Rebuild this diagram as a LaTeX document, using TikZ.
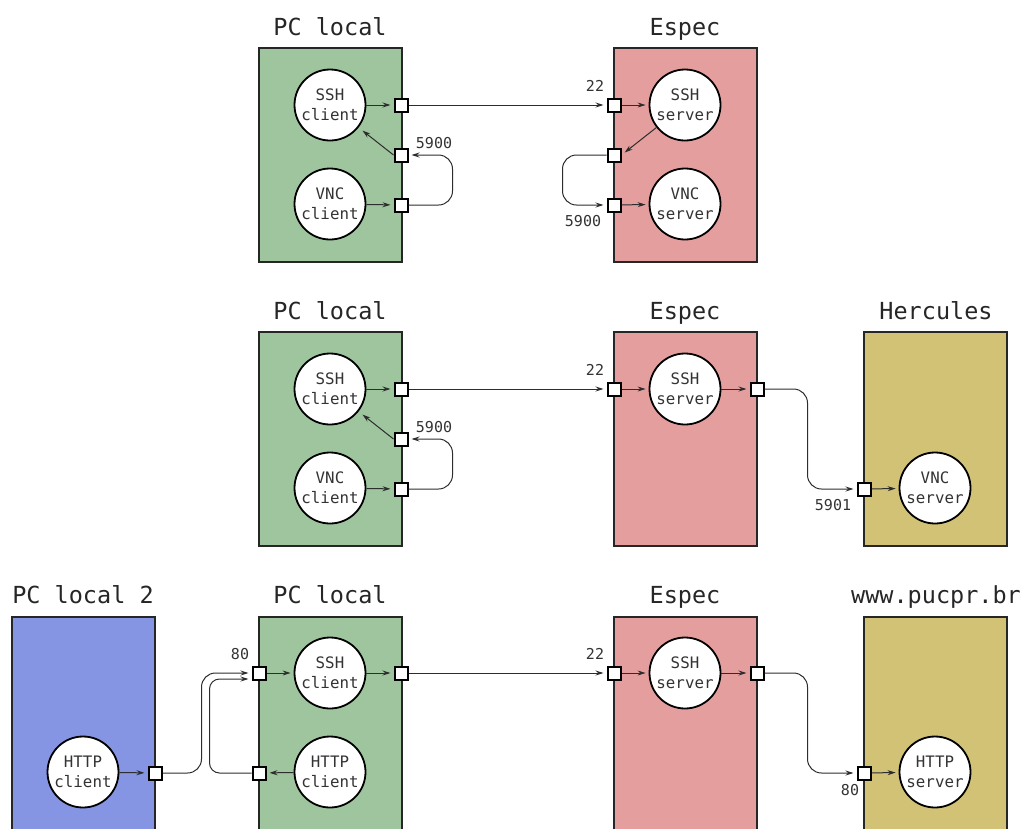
\documentclass[tikz,border=0pt]{standalone}
\usepackage{fontspec}
\setmonofont{DejaVu Sans Mono}
\usetikzlibrary{arrows.meta,calc}
\definecolor{cgreen}{RGB}{158,197,158}
\definecolor{cred}{RGB}{229,158,158}
\definecolor{cblue}{RGB}{133,149,228}
\definecolor{colive}{RGB}{209,194,118}
\definecolor{cline}{RGB}{45,45,45}
\begin{document}
\begin{tikzpicture}[x=1pt,y=-1pt,
  host/.style={draw=black!85, line width=2.2pt, minimum width=143pt, inner sep=0pt},
  title/.style={font=\ttfamily\fontsize{23.5}{28}\selectfont, text=black!85, text height=17pt, text depth=5pt},
  service/.style={circle, draw=black, fill=white, line width=1.8pt, minimum size=71pt, inner sep=0pt, align=center, font=\ttfamily\fontsize{15.8}{20}\selectfont, text=black!80},
  port/.style={draw=black, fill=white, line width=2pt, minimum size=13pt, inner sep=0pt},
  plabel/.style={font=\ttfamily\fontsize{15}{17}\selectfont, text=black!80},
  conn/.style={draw=cline, line width=1pt, -{Stealth[length=8pt,width=5pt]}, shorten >=3pt},
  loop/.style={conn, rounded corners=14pt}
]
\useasboundingbox (0,0) rectangle (1023,828);
\clip (0,0) rectangle (1023,828);

% ---------------- Row 1 ----------------
\node[host, fill=cgreen, minimum height=214pt] (pcA) at (330.5,155) {};
\node[host, fill=cred, minimum height=214pt] (espA) at (685.5,155) {};
\node[title] (tpcA) at (330,29) {PC local};
\node[title] (tespA) at (685,29) {Espec};
\node[service] (sshcA) at (330,105) {SSH\\client};
\node[service] (vnccA) at (330,204) {VNC\\client};
\node[service] (sshsA) at (685,105) {SSH\\server};
\node[service] (vncsA) at (685,204) {VNC\\server};
\node[port] (pA1) at (401,105) {};
\node[port] (pA2) at (401,155) {};
\node[port] (pA3) at (401,205) {};
\node[port] (qA1) at (614,105) {};
\node[port] (qA2) at (614,155) {};
\node[port] (qA3) at (614,205) {};
\node[plabel] (lA1) at (434,143) {5900};
\node[plabel] (lA2) at (595,86) {22};
\node[plabel] (lA3) at (583,221) {5900};
\draw[conn] (sshcA) -- (pA1);
\draw[conn] (pA1) -- (qA1);
\draw[conn, shorten >=5pt] (pA2.west) -- (sshcA);
\draw[conn] (vnccA) -- (pA3);
\draw[loop] (pA3.east) -| ([xshift=44pt]pA2.east) -- (pA2.east);
\draw[conn] (qA1) -- (sshsA);
\draw[conn, shorten >=4pt] (sshsA) -- (qA2.east);
\draw[loop] (qA2.west) -| ([xshift=-44pt]qA3.west) -- (qA3.west);
\draw[conn] (qA3) -- (vncsA);

% ---------------- Row 2 ----------------
\node[host, fill=cgreen, minimum height=214pt] (pcB) at (330.5,439) {};
\node[host, fill=cred, minimum height=214pt] (espB) at (685.5,439) {};
\node[host, fill=colive, minimum height=214pt] (herB) at (935.5,439) {};
\node[title] (tpcB) at (330,313) {PC local};
\node[title] (tespB) at (685,313) {Espec};
\node[title] (therB) at (936,313) {Hercules};
\node[service] (sshcB) at (330,389) {SSH\\client};
\node[service] (vnccB) at (330,488) {VNC\\client};
\node[service] (sshsB) at (685,389) {SSH\\server};
\node[service] (vncsB) at (935,488) {VNC\\server};
\node[port] (pB1) at (401,389) {};
\node[port] (pB2) at (401,439) {};
\node[port] (pB3) at (401,489) {};
\node[port] (qB1) at (614,389) {};
\node[port] (qB2) at (757,389) {};
\node[port] (hB1) at (864,489) {};
\node[plabel] (lB1) at (434,427) {5900};
\node[plabel] (lB2) at (595,370) {22};
\node[plabel] (lB3) at (833,505) {5901};
\draw[conn] (sshcB) -- (pB1);
\draw[conn] (pB1) -- (qB1);
\draw[conn, shorten >=5pt] (pB2.west) -- (sshcB);
\draw[conn] (vnccB) -- (pB3);
\draw[loop] (pB3.east) -| ([xshift=44pt]pB2.east) -- (pB2.east);
\draw[conn] (qB1) -- (sshsB);
\draw[conn] (sshsB) -- (qB2);
\draw[loop] (qB2.east) -| ([xshift=-49pt]hB1.west) -- (hB1.west);
\draw[conn] (hB1) -- (vncsB);

% ---------------- Row 3 ----------------
\node[host, fill=cblue, minimum height=240pt] (pc2C) at (83.5,737) {};
\node[host, fill=cgreen, minimum height=240pt] (pcC) at (330.5,737) {};
\node[host, fill=cred, minimum height=240pt] (espC) at (685.5,737) {};
\node[host, fill=colive, minimum height=240pt] (wwwC) at (935.5,737) {};
\node[title] (tpc2C) at (83,597) {PC local 2};
\node[title] (tpcC) at (330,597) {PC local};
\node[title] (tespC) at (685,597) {Espec};
\node[title] (twwwC) at (936,597) {www.pucpr.br};
\node[service] (httpc2C) at (83,772) {HTTP\\client};
\node[service] (sshcC) at (330,673) {SSH\\client};
\node[service] (httpcC) at (330,772) {HTTP\\client};
\node[service] (sshsC) at (685,673) {SSH\\server};
\node[service] (httpsC) at (935,772) {HTTP\\server};
\node[port] (rC1) at (155,773) {};
\node[port] (pC0) at (259,673) {};
\node[port] (pC1) at (401,673) {};
\node[port] (pC3) at (259,773) {};
\node[port] (qC1) at (614,673) {};
\node[port] (qC2) at (757,673) {};
\node[port] (wC1) at (864,773) {};
\node[plabel] (lC1) at (240,654) {80};
\node[plabel] (lC2) at (595,654) {22};
\node[plabel] (lC3) at (850,790) {80};
\draw[conn] (httpc2C) -- (rC1);
\draw[loop] (rC1.east) -| ([xshift=-50pt]pC0.west) -- (pC0.west);
\draw[loop, rounded corners=10pt] (pC3.west) -| ([xshift=-42pt,yshift=-6pt]pC0.west) -- ([yshift=-6pt]pC0.west);
\draw[conn] (httpcC) -- (pC3);
\draw[conn] (pC0) -- (sshcC);
\draw[conn] (sshcC) -- (pC1);
\draw[conn] (pC1) -- (qC1);
\draw[conn] (qC1) -- (sshsC);
\draw[conn] (sshsC) -- (qC2);
\draw[loop] (qC2.east) -| ([xshift=-49pt]wC1.west) -- (wC1.west);
\draw[conn] (wC1) -- (httpsC);
\end{tikzpicture}
\end{document}
